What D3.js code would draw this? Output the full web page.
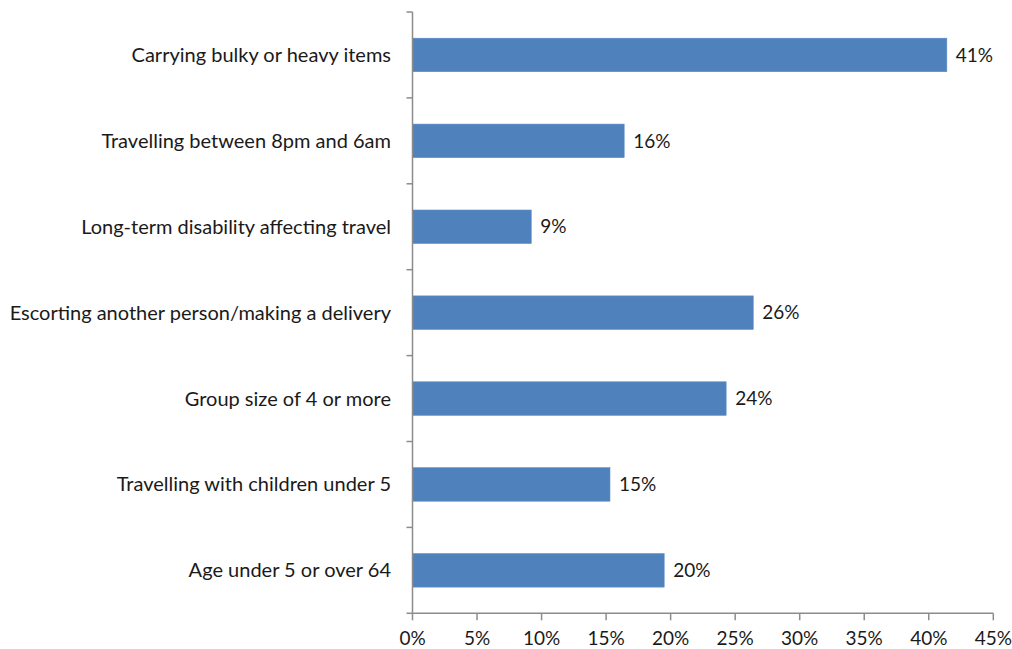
<!DOCTYPE html>
<html><head><meta charset="utf-8">
<script src="https://cdn.jsdelivr.net/npm/d3@7"></script>
<style>body{margin:0;background:#fff}svg{display:block}text{font-family:Lato,"Open Sans",sans-serif;fill:#1a1a1a}</style>
</head><body><svg id="c" width="1012" height="649"></svg>
<script>
const categories = ["Carrying bulky or heavy items","Travelling between 8pm and 6am","Long-term disability affecting travel","Escorting another person/making a delivery","Group size of 4 or more","Travelling with children under 5","Age under 5 or over 64"];
const values = [41.4, 16.4, 9.2, 26.4, 24.3, 15.3, 19.5];
const xTicks = [0,5,10,15,20,25,30,35,40,45];

const svg = d3.select("#c");
const m = {left:412.5, right:993.3, top:12, bottom:613.3};
const x = d3.scaleLinear().domain([0,45]).range([m.left, m.right]);
const y = d3.scaleBand().domain(categories).range([m.top, m.bottom]).paddingInner(0.61).paddingOuter(0.305);
const axisColor = "#8c8c8c";

svg.selectAll("rect.bar").data(values).enter().append("rect")
  .attr("x", x(0)).attr("y", (d,i)=>y(categories[i]))
  .attr("width", d=>x(d)-x(0)).attr("height", y.bandwidth())
  .attr("fill", "#4F81BD").attr("stroke","#5b8cc6").attr("stroke-width",0.6);

svg.selectAll("text.val").data(values).enter().append("text")
  .attr("x", d=>x(d)+9).attr("y", (d,i)=>y(categories[i])+y.bandwidth()/2)
  .attr("dy","0.35em").attr("font-size",19).text(d=>Math.round(d)+"%");

// y axis
const step = (m.bottom-m.top)/categories.length;
const gy = svg.append("g");
gy.append("line").attr("x1",m.left).attr("x2",m.left).attr("y1",m.top).attr("y2",m.bottom).attr("stroke",axisColor).attr("stroke-width",1.5);
gy.selectAll("line.t").data(d3.range(categories.length+1)).enter().append("line")
  .attr("x1",m.left-6).attr("x2",m.left).attr("y1",i=>m.top+i*step).attr("y2",i=>m.top+i*step)
  .attr("stroke",axisColor).attr("stroke-width",1.5);
gy.selectAll("text").data(categories).enter().append("text")
  .attr("x",391).attr("y",d=>y(d)+y.bandwidth()/2).attr("dy","0.35em")
  .attr("text-anchor","end").attr("font-size",20).attr("textLength",null).text(d=>d);

// x axis
const gx = svg.append("g");
gx.append("line").attr("x1",m.left).attr("x2",m.right).attr("y1",m.bottom).attr("y2",m.bottom).attr("stroke",axisColor).attr("stroke-width",1.5);
gx.selectAll("line.t").data(xTicks).enter().append("line")
  .attr("x1",d=>x(d)).attr("x2",d=>x(d)).attr("y1",m.bottom).attr("y2",m.bottom+7)
  .attr("stroke",axisColor).attr("stroke-width",1.5);
gx.selectAll("text").data(xTicks).enter().append("text")
  .attr("x",d=>x(d)).attr("y",638).attr("dy","0.35em").attr("text-anchor","middle")
  .attr("font-size",19).text(d=>d+"%");
</script></body></html>
